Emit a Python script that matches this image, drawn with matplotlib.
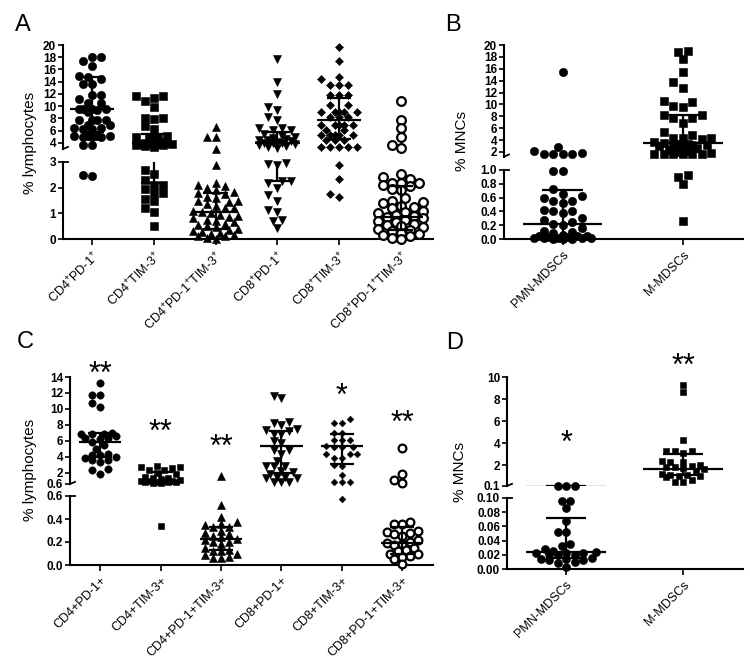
import numpy as np
import matplotlib
matplotlib.use("Agg")
import matplotlib.pyplot as plt
from matplotlib.transforms import offset_copy

plt.rcParams['font.family'] = ['Liberation Sans', 'DejaVu Sans']
plt.rcParams['mathtext.fontset'] = 'custom'
plt.rcParams['mathtext.rm'] = 'Liberation Sans'
plt.rcParams['mathtext.it'] = 'Liberation Sans:italic'
plt.rcParams['mathtext.bf'] = 'Liberation Sans:bold'

W, H = 750, 668

# ---------------- panel A : % lymphocytes ----------------
a_cats = [r"CD4$^{+}$PD-1$^{+}$", r"CD4$^{+}$TIM-3$^{+}$", r"CD4$^{+}$PD-1$^{+}$TIM-3$^{+}$",
          r"CD8$^{+}$PD-1$^{+}$", r"CD8$^{+}$TIM-3$^{+}$", r"CD8$^{+}$PD-1$^{+}$TIM-3$^{+}$"]
a_cd4_pd1 = [18.0, 18.0, 17.4, 16.5, 15.0, 14.8, 14.5, 13.7, 13.7, 11.8, 11.8, 11.1, 10.5, 10.5,
             9.5, 9.5, 9.5, 9.5, 9.4, 9.0, 7.8, 7.8, 7.8, 7.8, 7.0, 7.0, 6.4, 6.4, 6.2, 6.2,
             5.2, 5.2, 5.2, 5.2, 5.0, 4.9, 4.9, 3.6, 3.6, 2.45, 2.5]
a_cd4_tim3 = [11.7, 11.7, 11.3, 10.9, 9.9, 8.1, 8.1, 7.9, 6.7, 6.2, 5.2, 5.0, 5.0, 5.0, 4.1, 4.0,
              3.9, 3.9, 3.8, 3.8, 3.8, 3.8, 3.7, 3.6, 3.5, 3.4, 2.7, 2.55, 2.3, 2.1, 2.1, 1.95,
              1.8, 1.8, 1.55, 1.5, 1.2, 1.05, 0.52]
a_cd4_dp = [6.6, 5.0, 5.0, 3.0, 2.87, 2.2, 2.1, 2.05, 2.0, 1.9, 1.85, 1.8, 1.75, 1.65, 1.6, 1.5,
            1.5, 1.45, 1.35, 1.3, 1.2, 1.2, 1.1, 1.05, 1.0, 0.95, 0.9, 0.85, 0.8, 0.75, 0.7,
            0.65, 0.6, 0.55, 0.5, 0.45, 0.4, 0.35, 0.3, 0.28, 0.25, 0.2, 0.15, 0.12, 0.1, 0.05, 0.0]
a_cd8_pd1 = [17.7, 14.0, 12.0, 9.9, 9.3, 8.3, 7.75, 6.4, 6.4, 6.1, 6.1, 5.5, 5.2, 5.0, 4.8, 4.6,
             4.5, 4.4, 4.3, 4.1, 4.0, 4.0, 3.9, 3.8, 3.6, 3.5, 3.4, 3.2, 2.95, 2.92, 2.88, 2.25,
             2.25, 2.2, 2.0, 1.7, 1.5, 1.12, 1.05, 0.75, 0.7, 0.42]
a_cd8_tim3 = [19.6, 17.4, 14.8, 14.4, 13.4, 13.4, 13.4, 11.8, 11.8, 11.8, 10.2, 10.2, 9.1, 9.1,
              9.1, 9.1, 9.1, 8.2, 8.2, 8.2, 6.9, 6.9, 6.9, 6.9, 6.9, 6.1, 6.1, 5.3, 5.3, 5.3,
              5.3, 5.3, 4.5, 4.5, 4.5, 3.4, 3.4, 3.3, 3.4, 3.4, 2.9, 2.35, 1.74, 1.65]
a_cd8_dp = [10.9, 7.8, 6.5, 5.0, 3.7, 3.2, 2.55, 2.4, 2.35, 2.17, 2.17, 2.17, 2.1, 2.05, 1.95,
            1.9, 1.58, 1.5, 1.45, 1.4, 1.3, 1.25, 1.2, 1.1, 1.05, 1.0, 0.95, 0.9, 0.85, 0.8,
            0.75, 0.7, 0.65, 0.6, 0.55, 0.5, 0.45, 0.4, 0.35, 0.3, 0.25, 0.2, 0.15, 0.1, 0.05, 0.0]
a_median = [9.5, 3.9, 1.07, 4.0, 7.8, 0.85]
a_q1 = [5.8, 2.2, 0.4, 2.25, 4.6, 0.35]
a_q3 = [14.7, 5.4, 1.8, 5.8, 11.4, 2.05]
a_hi_ticks = [4, 6, 8, 10, 12, 14, 16, 18, 20]
a_lo_ticks = [0, 1, 2, 3]

# ---------------- panel B : % MNCs ----------------
b_cats = ["PMN-MDSCs", "M-MDSCs"]
b_pmn = [15.5, 2.8, 2.2, 1.9, 1.7, 1.6, 1.6, 1.6, 0.98, 0.98, 0.72, 0.65, 0.62, 0.6, 0.55, 0.55,
         0.52, 0.42, 0.4, 0.4, 0.38, 0.3, 0.28, 0.25, 0.22, 0.2, 0.16, 0.12, 0.1, 0.08, 0.06,
         0.05, 0.05, 0.04, 0.03, 0.03, 0.02, 0.02, 0.01, 0.01, 0.01, 0.0, 0.0, 0.0]
b_m = [19.0, 18.9, 17.6, 15.4, 13.7, 12.8, 10.6, 10.4, 9.8, 9.6, 8.2, 8.2, 7.7, 7.7, 6.9, 5.3,
       4.9, 4.3, 4.3, 4.3, 4.2, 3.6, 3.5, 3.4, 3.3, 3.2, 3.2, 3.2, 3.1, 3.0, 2.6, 2.4, 2.2, 2.0,
       1.8, 1.7, 1.65, 1.6, 1.6, 1.6, 1.6, 0.93, 0.9, 0.8, 0.26]
b_median = [0.22, 3.46]
b_q1 = [0.03, 2.05]
b_q3 = [0.71, 8.2]
b_hi_ticks = [2, 4, 6, 8, 10, 12, 14, 16, 18, 20]
b_lo_ticks = [0.0, 0.2, 0.4, 0.6, 0.8, 1.0]
b_lo_labels = ["0.0", "0.2", "0.4", "0.6", "0.8", "1.0"]

# ---------------- panel C : % lymphocytes ----------------
c_cats = ["CD4+PD-1+", "CD4+TIM-3+", "CD4+PD-1+TIM-3+", "CD8+PD-1+", "CD8+TIM-3+", "CD8+PD-1+TIM-3+"]
c_cd4_pd1 = [13.3, 11.8, 11.8, 10.8, 10.3, 7.0, 6.9, 6.9, 6.8, 6.6, 6.3, 6.3, 6.2, 5.8, 5.5, 5.0,
             4.4, 4.2, 4.2, 4.0, 3.8, 3.6, 3.6, 3.3, 2.5, 2.4, 1.9]
c_cd4_tim3 = [2.8, 2.7, 2.7, 2.6, 2.4, 2.3, 2.0, 1.8, 1.5, 1.4, 1.3, 1.2, 1.1, 1.0, 1.0, 1.0,
              0.95, 0.9, 0.9, 0.85, 0.8, 0.75, 0.7, 0.34]
c_cd4_dp = [1.6, 0.52, 0.42, 0.37, 0.36, 0.35, 0.33, 0.33, 0.3, 0.28, 0.27, 0.25, 0.24, 0.23,
            0.22, 0.2, 0.2, 0.18, 0.15, 0.13, 0.12, 0.12, 0.1, 0.09, 0.07, 0.06, 0.06]
c_cd8_pd1 = [11.6, 11.4, 8.4, 8.2, 8.0, 7.5, 7.4, 7.2, 6.9, 6.8, 6.0, 5.7, 4.9, 4.8, 4.3, 3.5,
             2.9, 2.9, 2.8, 2.2, 2.1, 1.9, 1.5, 1.5, 1.4, 1.3, 0.9, 0.8, 0.8]
c_cd8_tim3 = [8.8, 8.2, 8.2, 7.0, 7.0, 6.1, 6.1, 6.1, 5.4, 5.2, 5.2, 5.2, 4.4, 4.4, 4.4, 3.9,
              3.9, 3.0, 2.9, 1.7, 0.8, 0.8, 0.8, 0.57]
c_cd8_dp = [5.1, 1.8, 1.1, 0.7, 0.37, 0.36, 0.36, 0.3, 0.29, 0.28, 0.27, 0.25, 0.22, 0.2, 0.19,
            0.18, 0.17, 0.15, 0.13, 0.12, 0.1, 0.1, 0.08, 0.07, 0.05, 0.01]
c_median = [5.8, 1.0, 0.23, 5.4, 5.4, 0.19]
c_q1 = [4.0, 0.8, 0.13, 2.0, 3.1, 0.1]
c_q3 = [7.0, 2.1, 0.33, 7.3, 6.9, 0.33]
c_stars = ["**", "**", "**", "", "*", "**"]
c_star_y = [15.4, 8.1, 6.2, 0, 12.6, 9.25]
c_hi_ticks = [0.6, 2, 4, 6, 8, 10, 12, 14]
c_hi_labels = ["0.6", "2", "4", "6", "8", "10", "12", "14"]
c_lo_ticks = [0.0, 0.2, 0.4, 0.6]
c_lo_labels = ["0.0", "0.2", "0.4", "0.6"]

# ---------------- panel D : % MNCs ----------------
d_cats = ["PMN-MDSCs", "M-MDSCs"]
d_pmn = [0.105, 0.105, 0.105, 0.096, 0.096, 0.086, 0.067, 0.052, 0.052, 0.035, 0.033, 0.028,
         0.026, 0.024, 0.023, 0.022, 0.022, 0.021, 0.02, 0.02, 0.016, 0.014, 0.014, 0.013,
         0.012, 0.01, 0.008, 0.003]
d_m = [9.3, 8.6, 4.3, 3.3, 3.3, 3.3, 3.1, 2.4, 2.3, 2.3, 2.0, 1.9, 1.85, 1.8, 1.7, 1.6, 1.4,
       1.2, 1.1, 1.1, 1.0, 1.0, 0.9, 0.6, 0.5, 0.45]
d_median = [0.0235, 1.64]
d_q1 = [0.016, 1.1]
d_q3 = [0.072, 3.0]
d_stars = ["*", "**"]
d_star_y = [4.73, 11.7]
d_hi_ticks = [0.1, 2, 4, 6, 8, 10]
d_hi_labels = ["0.1", "2", "4", "6", "8", "10"]
d_lo_ticks = [0.0, 0.02, 0.04, 0.06, 0.08, 0.10]
d_lo_labels = ["0.00", "0.02", "0.04", "0.06", "0.08", "0.10"]

fig = plt.figure(figsize=(W / 100, H / 100), dpi=100)
fig.patch.set_facecolor("white")


def add_ax(x0, x1, y0, y1):
    return fig.add_axes([x0 / W, 1 - y1 / H, (x1 - x0) / W, (y1 - y0) / H])


def panel(xpx, hi_px, lo_px, xlim, hi_lim, lo_lim, hi_ticks, hi_labels, lo_ticks, lo_labels,
          cats, cat_size):
    hi = add_ax(xpx[0], xpx[1], *hi_px)
    lo = add_ax(xpx[0], xpx[1], *lo_px)
    for ax in (hi, lo):
        ax.set_xlim(*xlim)
        ax.patch.set_alpha(0)
        ax.spines['top'].set_visible(False)
        ax.spines['right'].set_visible(False)
        ax.spines['left'].set_linewidth(1.5)
        ax.tick_params(axis='y', length=3.5, width=1.2, pad=1.5, labelsize=8.5)
    hi.spines['bottom'].set_visible(False)
    hi.tick_params(axis='x', bottom=False, labelbottom=False)
    hi.set_ylim(*hi_lim)
    lo.set_ylim(*lo_lim)
    hi.set_yticks(hi_ticks, hi_labels, fontweight='bold')
    lo.set_yticks(lo_ticks, lo_labels, fontweight='bold')
    lo.spines['bottom'].set_linewidth(1.5)
    lo.set_xticks(range(len(cats)), cats, rotation=45, ha='right', rotation_mode='anchor',
                  fontsize=cat_size)
    lo.tick_params(axis='x', length=4, width=1.2, pad=3)
    # little stubs at the break
    stub = 5 / (xpx[1] - xpx[0])
    hi.plot([0, stub], [0, 0.02], transform=hi.transAxes, color='black', lw=1.3, clip_on=False)
    lo.plot([0, stub], [1, 1], transform=lo.transAxes, color='black', lw=1.3, clip_on=False)
    return hi, lo


def swarm(xc, ys, d, cap):
    # beeswarm spread, kept inside +-cap pixels (points overlap when crowded)
    cand = [0.0]
    k = 1
    while k * 0.5 * d <= cap:
        cand += [-k * 0.5 * d, k * 0.5 * d]
        k += 1
    placed = []
    xs = np.zeros(len(ys))
    for i in np.argsort(ys):
        y = ys[i]
        best, best_gap = 0.0, -1.0
        for c in cand:
            x = xc + c
            gap = min([np.hypot(x - px, y - py) for px, py in placed] + [1e9])
            if gap >= 0.85 * d:
                best = x
                break
            if gap > best_gap + 0.5:
                best, best_gap = x, gap
        placed.append((best, y))
        xs[i] = best
    return xs


def group(hi, lo, i, vals, brk, med, q1, q3, mk, ms, open_mk, d, cap, wmed, wcap):
    vals = np.asarray(vals, dtype=float)
    up = vals >= brk
    xc = lo.transData.transform((i, 0))[0]
    ys = np.array([(hi if u else lo).transData.transform((0, v))[1] for v, u in zip(vals, up)])
    xs_px = swarm(xc, ys, d, cap)
    inv = lo.transData.inverted()
    xs = np.array([inv.transform((p, 0))[0] for p in xs_px])
    for ax, m in ((hi, up), (lo, ~up)):
        if open_mk:
            ax.plot(xs[m], vals[m], ls='none', marker=mk, ms=ms, mfc='white', mec='black',
                    mew=1.6, clip_on=False, zorder=3)
        else:
            ax.plot(xs[m], vals[m], ls='none', marker=mk, ms=ms, mfc='black', mec='black',
                    mew=0.4, clip_on=False, zorder=3)
        kw = dict(color='black', lw=1.6, zorder=4, solid_capstyle='butt')
        ax.plot([i - wmed, i + wmed], [med, med], **kw)
        ax.plot([i - wcap, i + wcap], [q1, q1], **kw)
        ax.plot([i - wcap, i + wcap], [q3, q3], **kw)
        ax.plot([i, i], [q1, q3], **kw)


def stars(hi, labels, ys):
    tr = offset_copy(hi.transData, fig=fig, y=-17, units='dots')
    for i, (s, y) in enumerate(zip(labels, ys)):
        if s:
            hi.text(i, y, s, transform=tr, ha='center', va='baseline', fontsize=22,
                    clip_on=False)


# panel A
a_hi, a_lo = panel((63, 433), (45, 149), (162, 239), (-0.47, 5.52), (3, 20), (0, 3),
                   a_hi_ticks, [str(t) for t in a_hi_ticks], a_lo_ticks,
                   [str(t) for t in a_lo_ticks], a_cats, 9)
a_groups = [a_cd4_pd1, a_cd4_tim3, a_cd4_dp, a_cd8_pd1, a_cd8_tim3, a_cd8_dp]
a_mk = [('o', 6, False), ('s', 5.3, False), ('^', 6, False), ('v', 6, False), ('D', 3.8, False),
        ('o', 6.3, True)]
a_cap = [18, 20, 25, 20, 20, 24]
for i, vals in enumerate(a_groups):
    mk, ms, op = a_mk[i]
    group(a_hi, a_lo, i, vals, 3, a_median[i], a_q1[i], a_q3[i], mk, ms, op, 9, a_cap[i],
          0.36, 0.2)

# panel B
b_hi, b_lo = panel((504, 743), (45, 156.7), (170, 239), (-0.49, 1.5), (1.2, 20), (0, 1),
                   b_hi_ticks, [str(t) for t in b_hi_ticks], b_lo_ticks, b_lo_labels, b_cats, 9)
b_groups = [b_pmn, b_m]
b_mk = [('o', 6, False), ('s', 5.8, False)]
for i, vals in enumerate(b_groups):
    mk, ms, op = b_mk[i]
    group(b_hi, b_lo, i, vals, 1.0, b_median[i], b_q1[i], b_q3[i], mk, ms, op, 9.5, 33,
          0.33, 0.17)

# panel C
c_hi, c_lo = panel((70, 433), (377, 484), (496, 565), (-0.5, 5.51), (0.6, 14), (0, 0.6),
                   c_hi_ticks, c_hi_labels, c_lo_ticks, c_lo_labels, c_cats, 9)
c_groups = [c_cd4_pd1, c_cd4_tim3, c_cd4_dp, c_cd8_pd1, c_cd8_tim3, c_cd8_dp]
c_mk = [('o', 5.3, False), ('s', 4.6, False), ('^', 5.3, False), ('v', 5.3, False),
        ('D', 3.4, False), ('o', 5.6, True)]
c_cap = [20, 20, 18, 17, 16, 18]
for i, vals in enumerate(c_groups):
    mk, ms, op = c_mk[i]
    group(c_hi, c_lo, i, vals, 0.6, c_median[i], c_q1[i], c_q3[i], mk, ms, op, 7.8, c_cap[i],
          0.35, 0.2)
stars(c_hi, c_stars, c_star_y)

# panel D
d_hi, d_lo = panel((507, 743), (377, 486), (498, 569), (-0.504, 1.51), (0.1, 10), (0, 0.1),
                   d_hi_ticks, d_hi_labels, d_lo_ticks, d_lo_labels, d_cats, 9)
d_groups = [d_pmn, d_m]
d_mk = [('o', 5.8, False), ('s', 4.6, False)]
d_cap = [30, 24]
for i, vals in enumerate(d_groups):
    mk, ms, op = d_mk[i]
    group(d_hi, d_lo, i, vals, 0.1, d_median[i], d_q1[i], d_q3[i], mk, ms, op, 8.5, d_cap[i],
          0.34, 0.17)
stars(d_hi, d_stars, d_star_y)

# axis titles and panel letters
fig.text(30 / W, 1 - 143 / H, "% lymphocytes", rotation=90, fontsize=11, ha='center', va='center')
fig.text(462 / W, 1 - 141 / H, "% MNCs", rotation=90, fontsize=11, ha='center', va='center')
fig.text(30 / W, 1 - 470 / H, "% lymphocytes", rotation=90, fontsize=11, ha='center', va='center')
fig.text(460 / W, 1 - 472 / H, "% MNCs", rotation=90, fontsize=11, ha='center', va='center')
for letter, x, y in (("A", 23, 25), ("B", 453, 25), ("C", 25, 342), ("D", 455, 343)):
    fig.text(x / W, 1 - y / H, letter, fontsize=17, ha='center', va='center')

fig.savefig("out.png", dpi=100)
